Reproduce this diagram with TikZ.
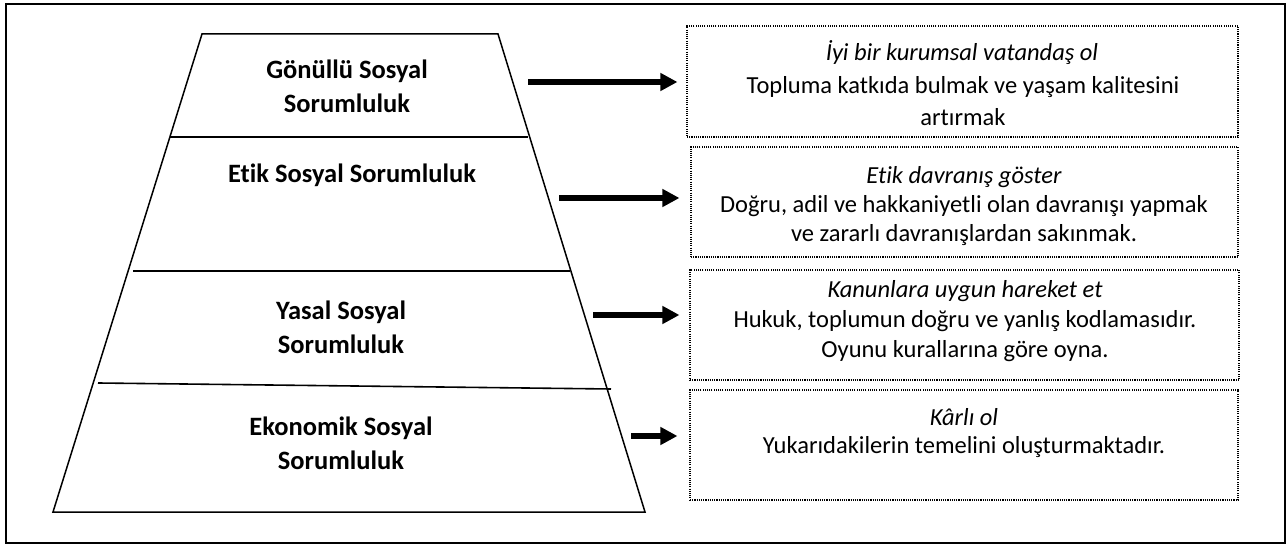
\documentclass[tikz,border=0pt]{standalone}
\usepackage{fontspec}
\setmainfont{Carlito}[Ligatures=NoCommon]
\usetikzlibrary{arrows.meta,calc}
\begin{document}
\begin{tikzpicture}[x=1pt,y=-1pt,
  lbl/.style={font=\bfseries\fontsize{26.5}{34}\selectfont, align=center, inner sep=0pt},
  txt/.style={font=\fontsize{24.5}{30}\selectfont, align=center, inner sep=0pt},
  dbox/.style={draw, line width=1.1pt, dash pattern=on 1.1pt off 1.1pt, inner sep=0pt},
  bigarrow/.style={line width=6.5pt, -{Triangle[length=17pt,width=17pt]}},
  edge/.style={line width=1.5pt, line join=miter},
  sep/.style={line width=1.6pt}]
\useasboundingbox (0,0) rectangle (1286,545);
% outer frame
\draw[line width=2pt] (6,4) rectangle (1285,543);
% trapezoid
\draw[edge] (202,34) -- (498,34) -- (645,512) -- (53,512) -- cycle;
\draw[line width=1.2pt] (170,137) -- (528,137);
\draw[sep] (133,271) -- (570,271);
\draw[sep] (98,383) -- (611,389);
% left labels
\node[lbl] (l1) at (347,86.5) {Gönüllü Sosyal\\Sorumluluk};
\node[lbl] (l2) at (352,175) {Etik Sosyal Sorumluluk};
\node[lbl] (l3) at (341,327) {Yasal Sosyal\\Sorumluluk};
\node[lbl] (l4) at (341,443) {Ekonomik Sosyal\\Sorumluluk};
% boxes
\node[dbox, minimum width=551pt, minimum height=111pt] (b1) at (962.5,81.5) {};
\node[dbox, minimum width=547pt, minimum height=110pt] (b2) at (964.5,202) {};
\node[dbox, minimum width=549pt, minimum height=110pt] (b3) at (964.5,325) {};
\node[dbox, minimum width=548pt, minimum height=110pt] (b4) at (964,445) {};
% box texts
\node[txt] (t1a) at (962,53) {\itshape İyi bir kurumsal vatandaş ol};
\node[txt, font=\fontsize{24.5}{32}\selectfont] (t1b) at (963,101) {Topluma katkıda bulmak ve yaşam kalitesini\\artırmak};
\node[txt] (t2a) at (964,177) {\itshape Etik davranış göster};
\node[txt, font=\fontsize{24.5}{29}\selectfont] (t2b) at (964,220.5) {Doğru, adil ve hakkaniyetli olan davranışı yapmak\\ve zararlı davranışlardan sakınmak.};
\node[txt] (t3a) at (965,291) {\itshape Kanunlara uygun hareket et};
\begin{scope}
\clip (690,270) rectangle (1239,362);
\node[txt] (t3b) at (965,336) {Hukuk, toplumun doğru ve yanlış kodlamasıdır.\\Oyunu kurallarına göre oyna.};
\end{scope}
\node[txt] (t4a) at (964,417) {\itshape Kârlı ol};
\node[txt] (t4b) at (964,447) {Yukarıdakilerin temelini oluşturmaktadır.};
% arrows
\coordinate (a1) at (528,82);
\coordinate (a2) at (559,198);
\coordinate (a3) at (593,315);
\coordinate (a4) at (631,436);
\draw[bigarrow] (a1) -- ($(b1.west|-a1)+(-9,0)$);
\draw[bigarrow] (a2) -- ($(b2.west|-a2)+(-11,0)$);
\draw[bigarrow] (a3) -- ($(b3.west|-a3)+(-10,0)$);
\draw[bigarrow] (a4) -- ($(b4.west|-a4)+(-12,0)$);
\end{tikzpicture}
\end{document}
